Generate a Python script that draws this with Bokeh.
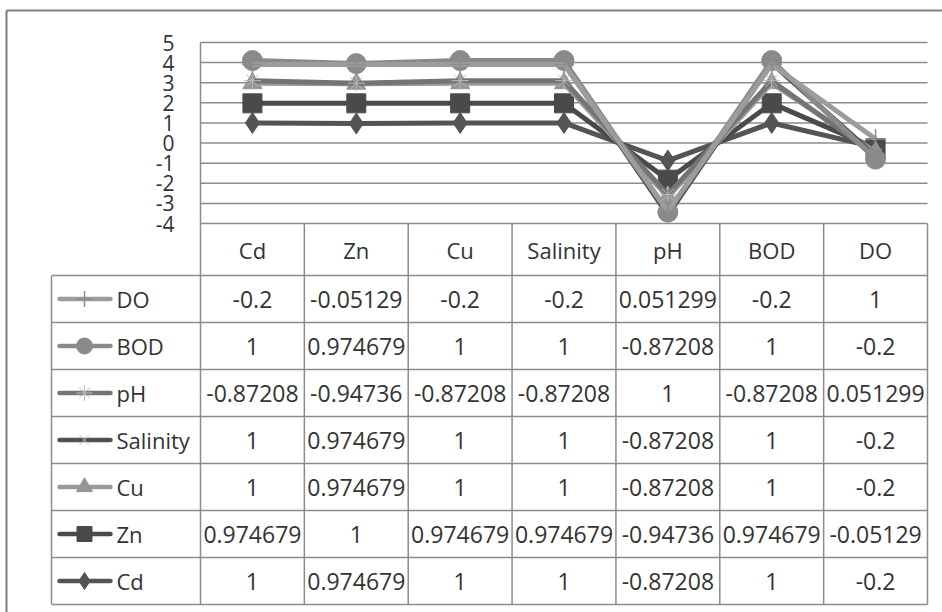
import numpy as np
from bokeh.plotting import figure
from bokeh.models import Range1d
from bokeh.core.properties import value
from bokeh.embed import file_html
from bokeh.resources import INLINE

# ---------------- data ----------------
categories = ["Cd", "Zn", "Cu", "Salinity", "pH", "BOD", "DO"]
series_names = ["Cd", "Zn", "Cu", "Salinity", "pH", "BOD", "DO"]
cd_vals = [1, 0.974679, 1, 1, -0.87208, 1, -0.2]
zn_vals = [0.974679, 1, 0.974679, 0.974679, -0.94736, 0.974679, -0.05129]
cu_vals = [1, 0.974679, 1, 1, -0.87208, 1, -0.2]
salinity_vals = [1, 0.974679, 1, 1, -0.87208, 1, -0.2]
ph_vals = [-0.87208, -0.94736, -0.87208, -0.87208, 1, -0.87208, 0.051299]
bod_vals = [1, 0.974679, 1, 1, -0.87208, 1, -0.2]
do_vals = [-0.2, -0.05129, -0.2, -0.2, 0.051299, -0.2, 1]
y_ticks = [-4, -3, -2, -1, 0, 1, 2, 3, 4, 5]

series_values = [cd_vals, zn_vals, cu_vals, salinity_vals, ph_vals, bod_vals, do_vals]

# ---------------- styles ----------------
line_colors = ["#545454", "#4a4a4a", "#9a9a9a", "#505050", "#747474", "#8a8a8a", "#9c9c9c"]
markers = ["diamond", "square", "triangle", "x", "asterisk", "circle", "cross"]
marker_sizes = [21, 19, 19, 16, 17, 20, 20]
marker_sizes_key = [17, 15, 16, 15, 16, 16, 16]
marker_fill = ["#545454", "#4a4a4a", "#949494", None, None, "#8a8a8a", None]
marker_line = ["#545454", "#4a4a4a", "#949494", "#c4c4c4", "#bdbdbd", "#8a8a8a", "#8c8c8c"]
marker_lw = [1, 1, 1, 1, 1, 1, 1.5]

GRID = "#8c8c8c"
TEXT = "#333333"
FONT = "Open Sans"

# ---------------- layout (pixels) ----------------
W, H = 942, 612
PX0, PX1 = 200, 927          # plot area left/right
PY_TOP, PY_BOT = 42, 223     # y = max tick / min tick
HDR_BOT = 275                # bottom of header row
ROW_H = 47
TBL_LEFT = 51
ymin, ymax = min(y_ticks), max(y_ticks)
ncat = len(categories)
CW = (PX1 - PX0) / ncat
U = (PY_BOT - PY_TOP) / (ymax - ymin)


def dx(px):
    return (px - PX0) / CW


def dy(py):
    return ymax - (py - PY_TOP) / U


p = figure(width=W, height=H, x_range=Range1d(dx(0), dx(W)), y_range=Range1d(dy(H), dy(0)),
           min_border=0, toolbar_location=None, output_backend="svg",
           x_axis_location=None, y_axis_location=None)
p.grid.visible = False
p.outline_line_color = None
p.background_fill_color = "white"
p.border_fill_color = "white"

# outer chart border
p.segment(x0=[dx(6), dx(6)], y0=[dy(10), dy(10)], x1=[dx(W + 5), dx(6)], y1=[dy(10), dy(H + 5)],
          line_color="#7f7f7f", line_width=2)

# horizontal gridlines
p.segment(x0=[0] * len(y_ticks), x1=[ncat] * len(y_ticks), y0=y_ticks, y1=y_ticks,
          line_color=GRID, line_width=1.5)
# plot area left edge
p.segment(x0=[0], x1=[0], y0=[ymin], y1=[ymax], line_color=GRID, line_width=1.5)

# y tick labels
p.text(x=[dx(174)] * len(y_ticks), y=y_ticks, text=[str(t) for t in y_ticks],
       text_font=value(FONT), text_font_size="21px", text_color=TEXT,
       text_align="right", text_baseline="middle", text_line_height=0.9)

# stacked lines
xc = np.arange(ncat) + 0.5
stacked = np.cumsum(np.array(series_values, dtype=float), axis=0)
for i, name in enumerate(series_names):
    p.line(x=xc, y=stacked[i], line_color=line_colors[i], line_width=5)
    p.scatter(x=xc, y=stacked[i], marker=markers[i], size=marker_sizes[i],
              fill_color=marker_fill[i], line_color=marker_line[i], line_width=marker_lw[i])

# ---------------- data table ----------------
nrows = len(series_names)
row_tops = [HDR_BOT + ROW_H * r for r in range(nrows + 1)]
# horizontal table lines
p.segment(x0=[dx(TBL_LEFT)] * len(row_tops), x1=[ncat] * len(row_tops),
          y0=[dy(t) for t in row_tops], y1=[dy(t) for t in row_tops],
          line_color=GRID, line_width=1.5)
# vertical table lines
p.segment(x0=list(range(ncat + 1)), x1=list(range(ncat + 1)),
          y0=[ymin] * (ncat + 1), y1=[dy(row_tops[-1])] * (ncat + 1),
          line_color=GRID, line_width=1.5)
p.segment(x0=[dx(TBL_LEFT)], x1=[dx(TBL_LEFT)], y0=[dy(HDR_BOT)], y1=[dy(row_tops[-1])],
          line_color=GRID, line_width=1.5)

# header labels
p.text(x=xc, y=[dy((PY_BOT + HDR_BOT) / 2)] * ncat, text=categories,
       text_font=value(FONT), text_font_size="22px", text_color=TEXT,
       text_align="center", text_baseline="middle")

# table rows: top row is the last series
order = list(range(nrows))[::-1]
cx, cy, ct = [], [], []
for r, si in enumerate(order):
    ymid = dy(HDR_BOT + ROW_H * r + ROW_H / 2)
    for j in range(ncat):
        cx.append(j + 0.5)
        cy.append(ymid)
        ct.append(f"{series_values[si][j]:g}")
    # row header text
    p.text(x=[dx(116)], y=[ymid], text=[series_names[si]], text_font=value(FONT),
           text_font_size="22px", text_color=TEXT, text_align="left", text_baseline="middle")
    # legend key
    p.line(x=[dx(59), dx(110)], y=[ymid, ymid], line_color=line_colors[si], line_width=4.5,
           line_cap="round")
    p.scatter(x=[dx(84)], y=[ymid], marker=markers[si], size=marker_sizes_key[si],
              fill_color=marker_fill[si], line_color=marker_line[si], line_width=marker_lw[si])

p.text(x=cx, y=cy, text=ct, text_font=value(FONT), text_font_size="23px", text_color=TEXT,
       text_align="center", text_baseline="middle")

open("out.html", "w").write(file_html(p, INLINE))
